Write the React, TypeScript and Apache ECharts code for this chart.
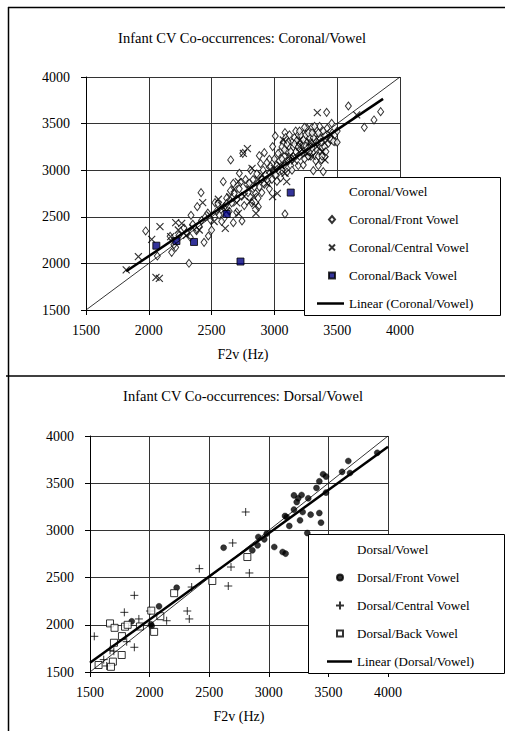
import React, { useEffect, useRef } from 'react';
import * as echarts from 'echarts';

const SERIF = 'Liberation Serif';

const AXIS_MIN = 1500;
const AXIS_MAX = 4000;
const AXIS_STEP = 500;
const xAxisName = 'F2v (Hz)';

const topTitle = 'Infant CV Co-occurrences: Coronal/Vowel';
const bottomTitle = 'Infant CV Co-occurrences: Dorsal/Vowel';

const topNames = ['Coronal/Vowel', 'Coronal/Front Vowel', 'Coronal/Central Vowel', 'Coronal/Back Vowel', 'Linear (Coronal/Vowel)'];
const bottomNames = ['Dorsal/Vowel', 'Dorsal/Front Vowel', 'Dorsal/Central Vowel', 'Dorsal/Back Vowel', 'Linear (Dorsal/Vowel)'];

// ---- Coronal (top) ----
const coronalFront: number[][] = [
  [1975, 2348], [2068, 2079], [2182, 2119], [2214, 2172], [2170, 2290], [2200, 2200], [2240, 2300],
  [2320, 2001], [2416, 2759], [2386, 2609], [2336, 2516], [2440, 2226], [2474, 2294], [2500, 2358],
  [2350, 2420], [2300, 2330], [2280, 2380], [2400, 2400], [2420, 2460], [2450, 2500], [2470, 2540],
  [2490, 2470], [2380, 2350], [2330, 2280],
  [2527, 2652], [2593, 2877], [2652, 3110], [2721, 2967], [2673, 2859], [2748, 3181], [2742, 2455],
  [2673, 2437], [2599, 2484], [2572, 2573], [2550, 2640], [2560, 2520], [2600, 2600], [2620, 2700],
  [2640, 2560], [2660, 2650], [2680, 2750], [2700, 2690], [2720, 2800], [2740, 2720], [2760, 2620],
  [2780, 2850], [2790, 2760], [2700, 2550], [2650, 2780], [2580, 2450], [2620, 2640], [2540, 2560],
  [2770, 2900], [2800, 2860], [2730, 2870],
  [2880, 3156], [2920, 3188], [2960, 3117], [2872, 2609], [2820, 2650], [2850, 2750], [2830, 2900],
  [2860, 2960], [2880, 2820], [2900, 2900], [2910, 3000], [2930, 2950], [2950, 2880], [2970, 3040],
  [2990, 2980], [2810, 3000], [2840, 2820], [2890, 3070], [2940, 3080], [2980, 2900], [2960, 2800],
  [2920, 2850], [2870, 2700], [2900, 2760],
  [3007, 3367], [3084, 3403], [2986, 3253], [3084, 2530], [3020, 3050], [3040, 3100], [3060, 3000],
  [3080, 3150], [3100, 3200], [3120, 3250], [3140, 3300], [3160, 3350], [3180, 3280], [3050, 3200],
  [3070, 3300], [3090, 3350], [3110, 3100], [3130, 3050], [3150, 3150], [3170, 3200], [3190, 3050],
  [3010, 2950], [3030, 3000], [3100, 2980], [3140, 3000], [3060, 3250], [3120, 3380], [3170, 3420],
  [3190, 3380], [3050, 2920], [3020, 2880], [3110, 3300], [3080, 3220], [3000, 3120],
  [3230, 3056], [3310, 2995], [3389, 2984], [3363, 3185], [3376, 3110], [3402, 3146], [3210, 3300],
  [3220, 3350], [3240, 3400], [3260, 3450], [3280, 3420], [3300, 3460], [3320, 3380], [3340, 3300],
  [3360, 3350], [3380, 3250], [3250, 3200], [3270, 3250], [3290, 3150], [3310, 3200], [3330, 3100],
  [3350, 3050], [3240, 3120], [3260, 3300], [3280, 3350], [3300, 3280], [3200, 3230], [3220, 3180],
  [3320, 3330], [3340, 3430], [3360, 3470], [3380, 3300], [3400, 3380], [3230, 3280], [3270, 3150],
  [3390, 3420],
  [3150, 3250], [3180, 3320], [3200, 3150], [3210, 3380], [3230, 3330], [3250, 3380], [3270, 3400],
  [3290, 3300], [3310, 3350], [3330, 3230], [3350, 3400], [3370, 3300], [3130, 3200], [3160, 3280],
  [3190, 3250], [3250, 3260], [3280, 3200], [3300, 3400], [3100, 3280], [3060, 3120], [3200, 3420],
  [3240, 3460], [3320, 3470], [3350, 3150], [3380, 3150], [3400, 3250], [3300, 3240], [3140, 3120],
  [3080, 3060], [3030, 3180],
  [3416, 3621], [3456, 3503], [3482, 3306], [3589, 3689], [3716, 3460], [3793, 3539], [3846, 3628],
  [3420, 3450], [3440, 3350], [3460, 3400], [3480, 3380], [3500, 3420], [3430, 3290], [3450, 3330],
  [3410, 3200], [3470, 3310], [3500, 3300],
];

const coronalCentral: number[][] = [
  [1820, 1930], [1917, 2072], [2023, 2258], [2089, 2394], [2057, 1850], [2084, 1840], [2214, 2437],
  [2262, 2430], [2235, 2358], [2174, 2287], [2402, 2358], [2429, 2652], [2554, 2688], [2609, 2376],
  [2646, 2716], [2713, 2877], [2753, 3181], [2785, 3231], [2822, 3020], [2806, 2662], [2853, 2537],
  [2832, 2716], [2986, 2716], [3023, 2752], [3098, 2877], [3085, 2967], [3342, 3618], [3403, 3110],
  [3655, 3593], [3071, 3324], [2713, 2537], [2487, 2519], [2300, 2300], [2350, 2380], [2520, 2450],
  [2580, 2620], [2620, 2560], [2680, 2800], [2700, 2650], [2760, 2720], [2800, 2800], [2850, 2620],
  [2870, 2900], [2900, 2950], [2940, 2860], [2960, 3000], [3000, 3020], [3050, 3050], [3120, 3150],
  [3160, 3100], [3200, 3250], [3240, 3200], [3280, 3300], [3300, 3150], [3340, 3250], [3380, 3200],
  [3420, 3320], [3450, 3380], [3200, 3320], [3260, 3180],
];

const coronalBack: number[][] = [
  [2060, 2190], [2220, 2240], [2360, 2230], [2620, 2530], [2730, 2020], [3130, 2760],
];

const coronalTrend: number[][] = [[1820, 1915], [3865, 3765]];
const coronalIdentity: number[][] = [[1500, 1500], [4000, 4000]];

// ---- Dorsal (bottom) ----
const dorsalFront: number[][] = [
  [3910, 3822], [3667, 3735], [3615, 3620], [3681, 3608], [3455, 3595], [3480, 3570], [3424, 3520],
  [3400, 3450], [3480, 3400], [3211, 3371], [3275, 3375], [3247, 3340], [3331, 3340], [3234, 3300],
  [3211, 3220], [3284, 3195], [3424, 3184], [3351, 3167], [3262, 3107], [3136, 3153], [3150, 3140],
  [3172, 3047], [3438, 3082], [3323, 2972], [2982, 2965], [2912, 2930], [2906, 2842], [2962, 2905],
  [3046, 2824], [3116, 2771], [3141, 2754], [2862, 2789], [2621, 2817], [2227, 2393], [2079, 2196],
  [1850, 2037], [2017, 1987], [2012, 2005],
];

const dorsalCentral: number[][] = [
  [1536, 1878], [1615, 1631], [1640, 1564], [1668, 1730], [1788, 2132], [1872, 2312], [1910, 2062],
  [1808, 1821], [1872, 1762], [2003, 2146], [2143, 2043], [2316, 2146], [2333, 2062], [2353, 2400],
  [2417, 2595], [2660, 2411], [2683, 2612], [2697, 2867], [2806, 3195], [2837, 2549], [1700, 1720],
];

const dorsalBack: number[][] = [
  [1668, 2015], [1706, 1968], [1701, 1810], [1768, 1880], [1794, 1980], [1816, 2000], [1766, 1680],
  [1692, 1610], [1676, 1555], [1572, 1574], [1919, 1982], [2014, 2150], [2038, 1925], [2090, 2091],
  [2206, 2335], [2526, 2464], [2820, 2718],
];

const dorsalTrend: number[][] = [[1500, 1598], [4000, 3885]];
const dorsalIdentity: number[][] = [[1500, 1500], [4000, 4000]];

const X_SYMBOL = 'path://M0,0L10,10M10,0L0,10';
const PLUS_SYMBOL = 'path://M5,0L5,10M0,5L10,5';

// legend icons (box 27x8 for the top legend, 25x8 for the bottom one)
const TOP_ICONS = [
  'none',
  'path://M0,0M27,8M15,0.5L18,4L15,7.5L12,4Z',
  'path://M0,0M27,8M12,1L18,7M18,1L12,7',
  'path://M0,0M27,8M12,1L18,1L18,7L12,7Z',
  'path://M0,0L27,0L27,2.5L0,2.5Z',
];
const BOTTOM_ICONS = [
  'none',
  'path://M0,0M25,8M10,4A3,3 0 1 1 16,4A3,3 0 1 1 10,4Z',
  'path://M0,0M25,8M13,0L13,8M9,4L17,4',
  'path://M0,0M25,8M10,1L16,1L16,7L10,7Z',
  'path://M0,0L25,0L25,2.5L0,2.5Z',
];

function axisPair(gridIndex: number) {
  const common = {
    gridIndex,
    min: AXIS_MIN,
    max: AXIS_MAX,
    interval: AXIS_STEP,
    axisLine: { show: true, onZero: false, lineStyle: { color: '#000', width: 1 } },
    axisTick: { show: true, inside: false, length: 5, lineStyle: { color: '#000', width: 1 } },
    splitLine: { show: true, lineStyle: { color: '#333', width: 1 } },
    axisLabel: { color: '#000', fontFamily: SERIF, fontSize: 14, formatter: (v: number) => String(v) },
  };
  return {
    x: {
      ...common,
      type: 'value',
      axisLabel: { ...common.axisLabel, margin: 13 },
      name: xAxisName,
      nameLocation: 'middle',
      nameGap: 37,
      nameTextStyle: { color: '#000', fontFamily: SERIF, fontSize: 14 },
    },
    y: {
      ...common,
      type: 'value',
      axisLabel: { ...common.axisLabel, margin: 16 },
    },
  };
}

export default function App() {
  const ref = useRef<HTMLDivElement>(null);

  useEffect(() => {
    if (!ref.current) return;
    const chart = echarts.init(ref.current, undefined, { renderer: 'svg' });
    const a0 = axisPair(0);
    const a1 = axisPair(1);

    const legendCommon = {
      orient: 'vertical',
      itemHeight: 8,
      itemGap: 15,
      padding: 0,
      selectedMode: false,
      z: 200,
      textStyle: { color: '#000', fontFamily: SERIF, fontSize: 13 },
    };

    const titleStyle = { color: '#000', fontFamily: SERIF, fontSize: 14.5, fontWeight: 'normal' };

    const option: any = {
      animation: false,
      backgroundColor: '#fff',
      title: [
        { text: topTitle, left: 242, top: 30, textAlign: 'center', padding: 0, textStyle: titleStyle },
        { text: bottomTitle, left: 243, top: 388, textAlign: 'center', padding: 0, textStyle: titleStyle },
      ],
      grid: [
        { left: 86, top: 77, width: 314, height: 233, containLabel: false },
        { left: 90, top: 436, width: 298, height: 236, containLabel: false },
      ],
      xAxis: [a0.x, a1.x],
      yAxis: [a0.y, a1.y],
      legend: [
        {
          ...legendCommon, left: 316, top: 185, itemWidth: 27,
          data: topNames.map((name, i) => ({ name, icon: TOP_ICONS[i] })),
        },
        {
          ...legendCommon, left: 326, top: 543, itemWidth: 25,
          data: bottomNames.map((name, i) => ({ name, icon: BOTTOM_ICONS[i] })),
        },
      ],
      graphic: [
        { type: 'line', z: 100, shape: { x1: 8.5, y1: 7, x2: 8.5, y2: 731 }, style: { stroke: '#000', lineWidth: 1.5 } },
        { type: 'line', z: 100, shape: { x1: 8, y1: 7.5, x2: 505, y2: 7.5 }, style: { stroke: '#000', lineWidth: 1.5 } },
        { type: 'line', z: 100, shape: { x1: 6, y1: 376, x2: 505, y2: 376 }, style: { stroke: '#000', lineWidth: 1.5 } },
        { type: 'rect', z: 100, shape: { x: 304.5, y: 177.5, width: 196, height: 138 }, style: { fill: '#fff', stroke: '#000', lineWidth: 1 } },
        { type: 'rect', z: 100, shape: { x: 308.5, y: 534.5, width: 196, height: 139 }, style: { fill: '#fff', stroke: '#000', lineWidth: 1 } },
      ],
      series: [
        { name: topNames[0], type: 'scatter', xAxisIndex: 0, yAxisIndex: 0, data: [], itemStyle: { color: '#000' } },
        {
          name: topNames[1], type: 'scatter', xAxisIndex: 0, yAxisIndex: 0, data: coronalFront,
          symbol: 'diamond', symbolSize: [6, 8], silent: true,
          itemStyle: { color: '#fff', borderColor: '#000', borderWidth: 1 },
        },
        {
          name: topNames[2], type: 'scatter', xAxisIndex: 0, yAxisIndex: 0, data: coronalCentral,
          symbol: X_SYMBOL, symbolSize: 7, silent: true,
          itemStyle: { color: '#000', borderColor: '#000', borderWidth: 1.2 },
        },
        {
          name: topNames[3], type: 'scatter', xAxisIndex: 0, yAxisIndex: 0, data: coronalBack,
          symbol: 'rect', symbolSize: 7, silent: true,
          itemStyle: { color: '#000080', borderColor: '#000', borderWidth: 1 },
        },
        {
          name: topNames[4], type: 'line', xAxisIndex: 0, yAxisIndex: 0, data: coronalTrend,
          symbol: 'none', silent: true, z: 5,
          lineStyle: { color: '#000', width: 2.5 }, itemStyle: { color: '#000' },
        },
        {
          name: 'Coronal identity', type: 'line', xAxisIndex: 0, yAxisIndex: 0, data: coronalIdentity,
          symbol: 'none', silent: true, z: 4,
          lineStyle: { color: '#000', width: 0.8 }, itemStyle: { color: '#000' },
        },
        { name: bottomNames[0], type: 'scatter', xAxisIndex: 1, yAxisIndex: 1, data: [], itemStyle: { color: '#000' } },
        {
          name: bottomNames[1], type: 'scatter', xAxisIndex: 1, yAxisIndex: 1, data: dorsalFront,
          symbol: 'circle', symbolSize: 6, silent: true,
          itemStyle: { color: '#000', borderColor: '#000', borderWidth: 0.5 },
        },
        {
          name: bottomNames[2], type: 'scatter', xAxisIndex: 1, yAxisIndex: 1, data: dorsalCentral,
          symbol: PLUS_SYMBOL, symbolSize: 8, silent: true,
          itemStyle: { color: '#000', borderColor: '#000', borderWidth: 1 },
        },
        {
          name: bottomNames[3], type: 'scatter', xAxisIndex: 1, yAxisIndex: 1, data: dorsalBack,
          symbol: 'rect', symbolSize: 7, silent: true,
          itemStyle: { color: '#fff', borderColor: '#000', borderWidth: 1 },
        },
        {
          name: bottomNames[4], type: 'line', xAxisIndex: 1, yAxisIndex: 1, data: dorsalTrend,
          symbol: 'none', silent: true, z: 5,
          lineStyle: { color: '#000', width: 2.5 }, itemStyle: { color: '#000' },
        },
        {
          name: 'Dorsal identity', type: 'line', xAxisIndex: 1, yAxisIndex: 1, data: dorsalIdentity,
          symbol: 'none', silent: true, z: 4,
          lineStyle: { color: '#000', width: 0.8 }, itemStyle: { color: '#000' },
        },
      ],
    };

    chart.setOption(option);
    return () => chart.dispose();
  }, []);

  return (
    <div
      ref={ref}
      style={{ position: 'fixed', left: 0, top: 0, width: 505, height: 731, background: '#fff' }}
    />
  );
}
